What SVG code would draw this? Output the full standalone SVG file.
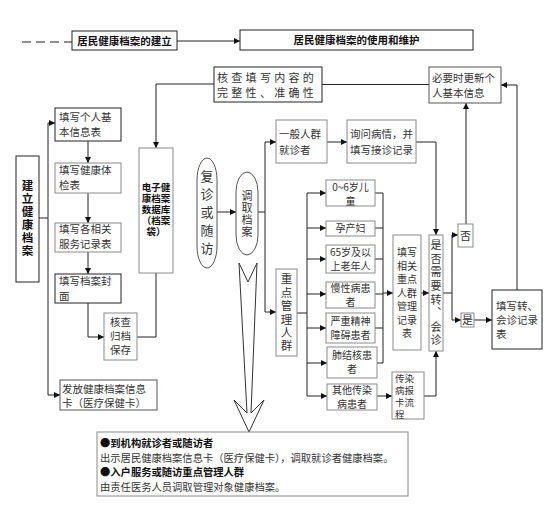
<svg xmlns="http://www.w3.org/2000/svg" width="554" height="514" viewBox="0 0 554 514">
<style>
.bk{fill:#fff;stroke:#222;stroke-width:1}
.gr{fill:#fff;stroke:#8a8a8a;stroke-width:1}
.t{font-family:"Noto Sans CJK SC","Noto Sans",sans-serif;font-size:10.5px;fill:#333}
.tb{font-family:"Noto Sans CJK SC","Noto Sans",sans-serif;font-size:10.5px;font-weight:bold;fill:#111}
.m{text-anchor:middle}
.v{writing-mode:tb;text-anchor:middle}
.c{fill:none;stroke:#222;stroke-width:1}
.ca{fill:none;stroke:#222;stroke-width:1;marker-end:url(#ah)}
</style>
<defs>
<marker id="ah" viewBox="0 0 10 10" refX="10" refY="5" markerWidth="7" markerHeight="6" markerUnits="userSpaceOnUse" orient="auto">
<path d="M0,0 L10,5 L0,10 z" fill="#111"/>
</marker>
</defs>

<g id="connectors">
<path class="c" d="M22,42 H72" stroke-dasharray="9,5"/>
<path class="ca" d="M177,41 H240"/>
<path class="c" d="M39,218 H48 M48,123 V395"/>
<path class="ca" d="M48,123 H55"/>
<path class="ca" d="M48,395 H60"/>
<path class="ca" d="M88,141 V163"/>
<path class="ca" d="M88,193 V223"/>
<path class="ca" d="M88,252 V274"/>
<path class="ca" d="M88,303 V337 H104"/>
<path class="c" d="M137,337 H156 V273"/>
<path class="ca" d="M214,84 H156 V148"/>
<path class="c" d="M322,84.5 H429"/>
<path class="ca" d="M217,212 H236"/>
<path class="c" d="M258,212 H265 M265,142 V312"/>
<path class="ca" d="M265,142 H276"/>
<path class="ca" d="M265,312 H276"/>
<path class="ca" d="M327,142 H347"/>
<path class="ca" d="M416,142 H436 V235"/>
<path class="c" d="M297,313 H307 M307,193 V396"/>
<path class="ca" d="M307,193 H326"/>
<path class="ca" d="M307,228 H326"/>
<path class="ca" d="M307,259 H326"/>
<path class="ca" d="M307,294 H326"/>
<path class="ca" d="M307,328 H326"/>
<path class="ca" d="M307,363 H327"/>
<path class="ca" d="M307,396 H327"/>
<path class="c" d="M375,193 H383 M375,228 H383 M375,259 H383 M375,294 H383 M375,328 H383 M377,363 H383 M383,193 V363"/>
<path class="ca" d="M383,293 H393"/>
<path class="ca" d="M421,293 H429"/>
<path class="c" d="M443,293 H452 M452,235 V320"/>
<path class="ca" d="M452,235 H458"/>
<path class="ca" d="M452,320 H461"/>
<path class="ca" d="M474,320 H492"/>
<path class="ca" d="M466,224 V103"/>
<path class="ca" d="M517,290 V85 H501"/>
<path class="ca" d="M377,396 H392"/>
<path class="ca" d="M424,396 H436 V351"/>
<polygon points="239,263 248,282 257,263 251,413 264,400 249,432 234,400 247,413" fill="#fff" stroke="#333" stroke-width="1"/>
</g>

<g id="n-build">
<rect class="bk" x="72" y="31" width="105" height="19"/>
<text class="tb" x="124.5" y="45" text-anchor="middle">居民健康档案的建立</text>
</g>
<g id="n-use">
<rect class="bk" x="240" y="30" width="233" height="20"/>
<text class="tb" x="356.5" y="44" text-anchor="middle">居民健康档案的使用和维护</text>
</g>

<g id="n-jianli">
<rect class="bk" x="16" y="156" width="23" height="126"/>
<text class="tb v" x="27.5" y="219" style="font-size:11.5px;letter-spacing:1.5px">建立健康档案</text>
</g>

<g id="n-b1">
<rect class="bk" x="55" y="108" width="66" height="33"/>
<text class="t" x="59" y="121">填写个人基</text><text class="t" x="59" y="136">本信息表</text>
</g>
<g id="n-b2">
<rect class="gr" x="55" y="163" width="66" height="30"/>
<text class="t" x="59" y="174">填写健康体</text><text class="t" x="59" y="189">检表</text>
</g>
<g id="n-b3">
<rect class="gr" x="55" y="223" width="66" height="29"/>
<text class="t" x="59" y="233">填写各相关</text><text class="t" x="59" y="248">服务记录表</text>
</g>
<g id="n-b4">
<rect class="bk" x="55" y="274" width="66" height="29"/>
<text class="t" x="59" y="285">填写档案封</text><text class="t" x="59" y="300">面</text>
</g>
<g id="n-b5">
<rect class="gr" x="104" y="313" width="33" height="47"/>
<text class="t m" x="120.5" y="326">核查</text><text class="t m" x="120.5" y="340">归档</text><text class="t m" x="120.5" y="354">保存</text>
</g>
<g id="n-card">
<rect class="bk" x="60" y="380" width="97" height="30" style="stroke:#555"/>
<text class="t" x="62" y="393">发放健康档案信息</text><text class="t" x="62" y="407">卡（医疗保健卡）</text>
</g>

<g id="n-db">
<rect class="gr" x="139" y="148" width="34" height="125"/>
<g class="tb m" style="font-size:9.5px">
<text x="156" y="191">电子健</text><text x="156" y="202">康档案</text><text x="156" y="213">数据库</text><text x="156" y="224">（档案</text><text x="156" y="235">袋）</text>
</g>
</g>

<g id="n-check">
<rect class="bk" x="214" y="67" width="108" height="35"/>
<text class="t" x="217" y="82" style="font-size:11px;letter-spacing:3.3px">核查填写内容的</text>
<text class="t" x="217" y="97" style="font-size:11px;letter-spacing:3.3px">完整性、准确性</text>
</g>

<g id="n-fuzhen">
<rect class="bk" x="197" y="158" width="20" height="110" rx="10" ry="22" style="stroke:#555"/>
<text class="t v" x="207" y="215" style="font-size:13px;letter-spacing:5px">复诊或随访</text>
</g>
<g id="n-diaoqu">
<rect class="bk" x="236" y="172" width="22" height="83" rx="11" ry="20" style="stroke:#555"/>
<text class="t v" x="247" y="214" style="font-size:11px;letter-spacing:1px">调取档案</text>
</g>

<g id="n-general">
<rect class="gr" x="276" y="120" width="51" height="43"/>
<text class="t" x="279" y="138">一般人群</text><text class="t" x="279" y="154">就诊者</text>
</g>
<g id="n-ask">
<rect class="gr" x="347" y="120" width="69" height="43"/>
<text class="t" x="350" y="138">询问病情，并</text><text class="t" x="350" y="154">填写接诊记录</text>
</g>
<g id="n-update">
<rect class="bk" x="429" y="67" width="72" height="36" style="stroke:#555"/>
<text class="t" x="432" y="82">必要时更新个</text><text class="t" x="432" y="97">人基本信息</text>
</g>

<g id="n-key">
<rect class="gr" x="276" y="269" width="21" height="87"/>
<text class="t v" x="286.5" y="313.5" style="font-size:11.5px;letter-spacing:1.9px">重点管理人群</text>
</g>

<g id="n-child">
<rect class="gr" x="326" y="180" width="49" height="26"/>
<text class="t m" x="350.5" y="191" style="font-size:10px">0~6岁儿</text><text class="t m" x="350.5" y="205" style="font-size:10px">童</text>
</g>
<g id="n-preg">
<rect class="gr" x="326" y="221" width="49" height="15"/>
<text class="t m" x="350.5" y="232" style="font-size:10px">孕产妇</text>
</g>
<g id="n-old">
<rect class="gr" x="326" y="245" width="49" height="28"/>
<text class="t m" x="350.5" y="256" style="font-size:10px">65岁及以</text><text class="t m" x="350.5" y="270" style="font-size:10px">上老年人</text>
</g>
<g id="n-chronic">
<rect class="gr" x="326" y="282" width="49" height="26"/>
<text class="t m" x="350.5" y="292" style="font-size:10px">慢性病患</text><text class="t m" x="350.5" y="306" style="font-size:10px">者</text>
</g>
<g id="n-mental">
<rect class="gr" x="326" y="313" width="49" height="30"/>
<text class="t m" x="350.5" y="325" style="font-size:10px">严重精神</text><text class="t m" x="350.5" y="339" style="font-size:10px">障碍患者</text>
</g>
<g id="n-tb">
<rect class="gr" x="327" y="347" width="50" height="31"/>
<text class="t m" x="352" y="359" style="font-size:10px">肺结核患</text><text class="t m" x="352" y="373" style="font-size:10px">者</text>
</g>
<g id="n-infect">
<rect class="gr" x="327" y="384" width="50" height="26"/>
<text class="t m" x="352" y="394" style="font-size:10px">其他传染</text><text class="t m" x="352" y="408" style="font-size:10px">病患者</text>
</g>

<g id="n-record">
<rect class="gr" x="393" y="235" width="28" height="115"/>
<g class="t m" style="font-size:10px">
<text x="407" y="256">填写</text><text x="407" y="269.5">相关</text><text x="407" y="283">重点</text><text x="407" y="296.5">人群</text><text x="407" y="310">管理</text><text x="407" y="323.5">记录</text><text x="407" y="337">表</text>
</g>
</g>

<g id="n-report">
<rect class="gr" x="392" y="372" width="32" height="47"/>
<g class="t" style="font-size:9.5px">
<text x="395" y="382">传染</text><text x="395" y="394">病报</text><text x="395" y="406">卡流</text><text x="395" y="418">程</text>
</g>
</g>

<g id="n-decide">
<rect class="gr" x="429" y="235" width="14" height="116"/>
<text class="t v" x="436" y="294" style="font-size:11px;letter-spacing:2.6px">是否需要转、会诊</text>
</g>
<g id="n-no">
<rect class="gr" x="458" y="224" width="15" height="23"/>
<text class="t m" x="465.5" y="239.5" style="font-size:11px">否</text>
</g>
<g id="n-yes">
<rect class="gr" x="461" y="313" width="13" height="14"/>
<text class="t m" x="467.5" y="324" style="font-size:11px">是</text>
</g>
<g id="n-referral">
<rect class="bk" x="492" y="290" width="50" height="59"/>
<text class="t" x="496" y="310">填写转、</text><text class="t" x="496" y="324">会诊记录</text><text class="t" x="496" y="338">表</text>
</g>

<g id="n-note">
<rect class="gr" x="97" y="432" width="311" height="64"/>
<text class="tb" x="100" y="447" style="font-size:10.3px">●到机构就诊者或随访者</text>
<text class="t" x="100" y="462" style="font-size:10.3px">出示居民健康档案信息卡（医疗保健卡），调取就诊者健康档案。</text>
<text class="tb" x="100" y="476" style="font-size:10.3px">●入户服务或随访重点管理人群</text>
<text class="t" x="100" y="491" style="font-size:10.3px">由责任医务人员调取管理对象健康档案。</text>
</g>
</svg>
